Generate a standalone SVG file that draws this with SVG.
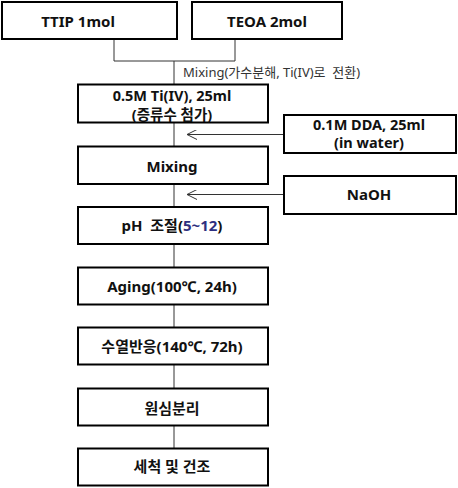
<svg xmlns="http://www.w3.org/2000/svg" width="458" height="488" viewBox="0 0 458 488">
<style>
.box{fill:#fff;stroke:#000;stroke-width:2}
.t{font-family:"Noto Sans","Noto Sans CJK KR",sans-serif;font-weight:bold;font-size:15px;fill:#111;text-anchor:middle}
.t2{font-size:14.5px}
.lbl{font-family:"Noto Sans","Noto Sans CJK KR",sans-serif;font-size:13px;fill:#333}
.c{fill:none;stroke:#333;stroke-width:1}
.blue{fill:#2e2f80}
</style>
<defs>
<marker id="arr" viewBox="0 0 10 10" refX="10" refY="5" markerWidth="10" markerHeight="10" markerUnits="userSpaceOnUse" orient="auto">
<path d="M0,0 L10,5 L0,10" fill="none" stroke="#333" stroke-width="1"/>
</marker>
</defs>
<g id="connectors">
<path class="c" d="M114,39 V61 M235,39 V61 M114,61 H235 M174,61 V84"/>
<path class="c" d="M174,123 V146 M174,184 V207 M174,244 V267 M174,304 V327 M174,364 V388 M174,425 V448"/>
<line class="c" x1="284" y1="134.5" x2="187" y2="134.5" marker-end="url(#arr)"/>
<line class="c" x1="284" y1="194.5" x2="187" y2="194.5" marker-end="url(#arr)"/>
<text class="lbl" x="183" y="77" xml:space="preserve">Mixing(가수분해, Ti(IV)로  전환)</text>
</g>
<g id="ttip"><rect class="box" x="2" y="2" width="175" height="37"/><text class="t" x="78" y="26.5">TTIP 1mol</text></g>
<g id="teoa"><rect class="box" x="192" y="2" width="150" height="37"/><text class="t" x="267" y="26.5">TEOA 2mol</text></g>
<g id="ti"><rect class="box" x="78" y="84.5" width="190" height="38"/><text class="t t2" x="172" y="101">0.5M Ti(IV), 25ml</text><text class="t t2" x="172" y="119.5">(증류수 첨가)</text></g>
<g id="dda"><rect class="box" x="284" y="115" width="172" height="38"/><text class="t t2" x="369" y="129.5">0.1M DDA, 25ml</text><text class="t t2" x="369" y="148">(in water)</text></g>
<g id="mixing"><rect class="box" x="78" y="146.5" width="190" height="37.5"/><text class="t" x="172" y="172">Mixing</text></g>
<g id="naoh"><rect class="box" x="284" y="176" width="172" height="38"/><text class="t" x="369" y="199.5">NaOH</text></g>
<g id="ph"><rect class="box" x="78" y="207" width="190" height="37"/><text class="t" x="172" y="231" xml:space="preserve">pH  조절(<tspan class="blue">5~12</tspan>)</text></g>
<g id="aging"><rect class="box" x="78" y="267.5" width="190" height="37"/><text class="t" x="172" y="292">Aging(100℃, 24h)</text></g>
<g id="hydro"><rect class="box" x="78" y="327.5" width="190" height="37"/><text class="t" x="172" y="352">수열반응(140℃, 72h)</text></g>
<g id="centri"><rect class="box" x="78" y="388.5" width="190" height="37"/><text class="t" x="172" y="414">원심분리</text></g>
<g id="wash"><rect class="box" x="78" y="448.5" width="190" height="37"/><text class="t" x="172" y="472">세척 및 건조</text></g>
</svg>
